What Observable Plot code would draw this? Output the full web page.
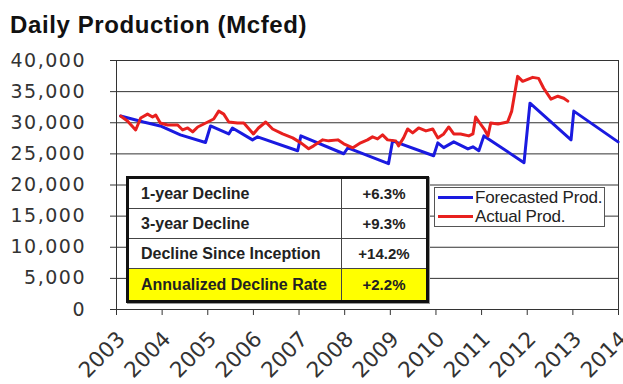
<!DOCTYPE html>
<html>
<head>
<meta charset="utf-8">
<script src="https://cdn.jsdelivr.net/npm/d3@7"></script>
<script src="https://cdn.jsdelivr.net/npm/@observablehq/plot@0.6"></script>
<style>
  html, body { margin: 0; padding: 0; background: #fff; }
  #wrap { position: relative; width: 623px; height: 384px; overflow: hidden; }
  #title { height: 40px; box-sizing: border-box; padding: 13px 0 0 10px; font: bold 24px/23px "Liberation Sans", Arial, sans-serif; letter-spacing: 0.6px; color: #111; white-space: nowrap; }
  #chart svg { display: block; }
  g[aria-label="y-axis tick label"] text { letter-spacing: 1.5px; }
  #tbl { position: absolute; left: 126px; top: 176px; width: 303px; height: 127px; box-sizing: border-box; border: 3px solid #111; background: #fff; display: grid; grid-template-columns: 213px 84px; grid-template-rows: 30px 30px 30px 31px; box-shadow: 1px 1px 0 #999; }
  #tbl div { box-sizing: border-box; display: flex; align-items: center; font: bold 16px "Liberation Sans", Arial, sans-serif; color: #222; white-space: nowrap; }
  #tbl .lab { padding-left: 12px; border-right: 1px solid #444; }
  #tbl .val { justify-content: center; font-size: 15px; }
  #tbl .b { border-bottom: 1px solid #444; }
  #tbl .hl { background: #ffff00; }
  #legend { position: absolute; left: 434px; top: 187px; width: 171px; height: 40px; box-sizing: border-box; border: 1px solid #555; background: #fff; }
  #legend .row { display: flex; align-items: center; height: 19px; font: 17px/19px "Liberation Sans", Arial, sans-serif; letter-spacing: -0.2px; color: #222; white-space: nowrap; }
  #legend .sw { width: 35px; height: 3px; margin: 0 2px 0 3px; }
</style>
</head>
<body>
<div id="wrap">
  <div id="title"></div>
  <div id="chart"></div>
  <div id="tbl"></div>
  <div id="legend"></div>
</div>
<script>
const titleText = "Daily Production (Mcfed)";

const forecastYears = [2003.09, 2003.59, 2003.96, 2004.40, 2004.95, 2005.06, 2005.46, 2005.54, 2005.98, 2006.09,
  2006.97, 2007.04, 2007.98, 2008.07, 2008.96, 2009.05, 2009.95, 2010.04, 2010.17, 2010.39,
  2010.70, 2010.81, 2010.94, 2011.05, 2011.93, 2012.06, 2012.96, 2013.02, 2013.99];
const forecastValues = [31075, 30120, 29480, 28050, 26820, 29480, 28200, 29160, 27250, 27730,
  25500, 27890, 25020, 25980, 23430, 27100, 24700, 26770, 26000, 26930,
  25800, 26130, 25500, 27890, 23590, 33150, 27250, 31870, 26930];

const actualYears = [2003.09, 2003.24, 2003.42, 2003.53, 2003.68, 2003.79, 2003.86, 2003.96, 2004.12, 2004.34,
  2004.45, 2004.56, 2004.67, 2004.78, 2005.00, 2005.13, 2005.24, 2005.35, 2005.46, 2005.65,
  2005.79, 2006.00, 2006.11, 2006.27, 2006.42, 2006.64, 2006.86, 2007.04, 2007.21, 2007.32,
  2007.52, 2007.65, 2007.85, 2007.98, 2008.18, 2008.35, 2008.50, 2008.61, 2008.72, 2008.83,
  2008.94, 2009.12, 2009.18, 2009.29, 2009.38, 2009.49, 2009.62, 2009.78, 2009.93, 2010.04,
  2010.17, 2010.28, 2010.39, 2010.54, 2010.72, 2010.81, 2010.87, 2010.96, 2011.07, 2011.14,
  2011.20, 2011.36, 2011.57, 2011.66, 2011.79, 2011.90, 2012.01, 2012.12, 2012.25, 2012.36,
  2012.52, 2012.67, 2012.80, 2012.89];
const actualValues = [31075, 30280, 28840, 30760, 31390, 30920, 31230, 29960, 29640, 29640,
  28840, 29160, 28530, 29320, 30120, 30600, 31870, 31390, 30120, 29960,
  29960, 28200, 29160, 30120, 29000, 28200, 27570, 26770, 25820, 26290,
  27250, 27090, 27250, 26610, 25980, 26770, 27250, 27730, 27410, 28050,
  27250, 27090, 26290, 27570, 29000, 28370, 29160, 28690, 29000, 27570,
  28200, 29320, 28200, 28200, 27890, 28200, 30920, 29960, 28840, 27890,
  29960, 29800, 30120, 31870, 37450, 36650, 36970, 37290, 37130, 35540,
  33790, 34260, 33940, 33470];

const xTicks = [2003, 2004, 2005, 2006, 2007, 2008, 2009, 2010, 2011, 2012, 2013, 2014];
const yTicks = [0, 5000, 10000, 15000, 20000, 25000, 30000, 35000, 40000];

const seriesNames = ["Forecasted Prod.", "Actual Prod."];
const seriesColors = ["#1a1ae0", "#e8201e"];

const tableLabels = ["1-year Decline", "3-year Decline", "Decline Since Inception", "Annualized Decline Rate"];
const tableValues = ["+6.3%", "+9.3%", "+14.2%", "+2.2%"];

const forecast = forecastYears.map((x, i) => ({x, y: forecastValues[i]}));
const actual = actualYears.map((x, i) => ({x, y: actualValues[i]}));

document.getElementById("title").textContent = titleText;

const chart = Plot.plot({
  width: 623,
  height: 344,
  marginTop: 20,
  marginBottom: 75,
  marginLeft: 116,
  marginRight: 5,
  x: {domain: [2003, 2014]},
  y: {domain: [0, 40000]},
  style: {fontFamily: "'DejaVu Sans', sans-serif", color: "#333", background: "#fff", overflow: "visible"},
  marks: [
    Plot.ruleY(yTicks.filter(d => d > 0), {stroke: "#333", strokeWidth: 1, strokeOpacity: 1}),
    Plot.ruleX([2014], {stroke: "#333", strokeWidth: 1, strokeOpacity: 1}),
    Plot.ruleX([2003], {stroke: "#333", strokeWidth: 1, strokeOpacity: 1}),
    Plot.ruleY([0], {stroke: "#333", strokeWidth: 1, strokeOpacity: 1}),
    Plot.axisY({ticks: yTicks, tickFormat: d => d3.format(",")(d), tickSize: 6, tickPadding: 24.5, fontSize: 19, stroke: "#333", label: null}),
    Plot.axisX({ticks: xTicks, tickFormat: () => "", tickSize: 6, stroke: "#333", label: null}),
    Plot.axisX({ticks: xTicks, tickFormat: d => String(d), tickSize: 0, tickPadding: 14, tickRotate: -45, fontSize: 21.5, label: null, dx: 5, dy: 12}),
    Plot.line(forecast, {x: "x", y: "y", stroke: seriesColors[0], strokeWidth: 3, strokeLinejoin: "round"}),
    Plot.line(actual, {x: "x", y: "y", stroke: seriesColors[1], strokeWidth: 3, strokeLinejoin: "round"})
  ]
});
document.getElementById("chart").appendChild(chart);

const tbl = document.getElementById("tbl");
tableLabels.forEach((lab, i) => {
  const last = i === tableLabels.length - 1;
  const a = document.createElement("div");
  a.className = "lab" + (last ? " hl" : " b");
  a.textContent = lab;
  const b = document.createElement("div");
  b.className = "val" + (last ? " hl" : " b");
  b.textContent = tableValues[i];
  tbl.appendChild(a);
  tbl.appendChild(b);
});

const legend = document.getElementById("legend");
seriesNames.forEach((name, i) => {
  const row = document.createElement("div");
  row.className = "row";
  const sw = document.createElement("span");
  sw.className = "sw";
  sw.style.background = seriesColors[i];
  const t = document.createElement("span");
  t.textContent = name;
  row.appendChild(sw);
  row.appendChild(t);
  legend.appendChild(row);
});
</script>
</body>
</html>
